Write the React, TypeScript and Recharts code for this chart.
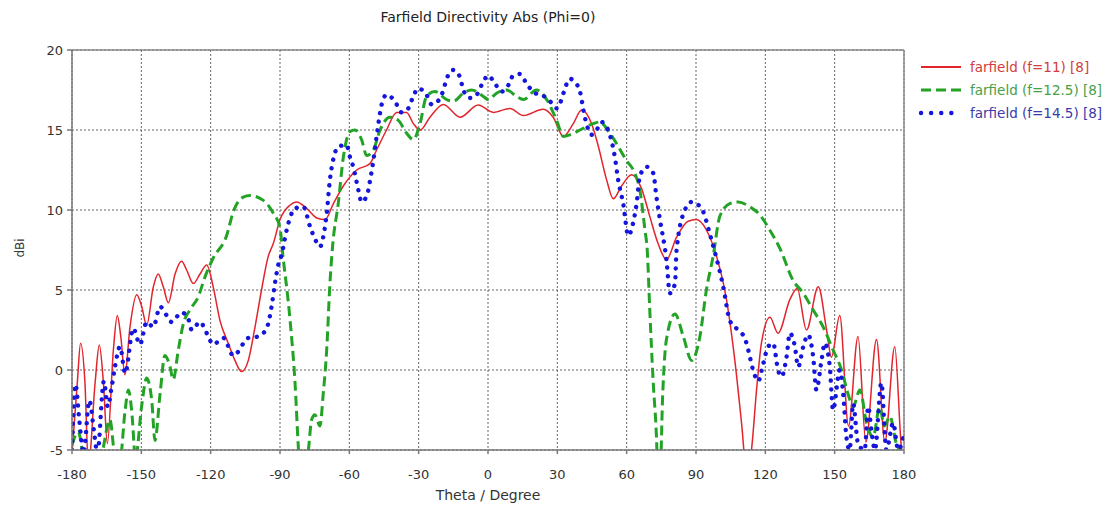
import React from 'react';
import {
  LineChart,
  Line,
  XAxis,
  YAxis,
  CartesianGrid,
  ReferenceLine,
  Legend,
} from 'recharts';

/* ------------------------- data ----------------------------------------- */
// f = 11 GHz (red, solid)
const redTheta = [
  -180, -177.7, -176.3, -174.4, -172.9, -170, -168.2, -166.4, -164.7, -162.1,
  -160.4, -158.9, -157.1, -154.9, -152, -149.9, -147.7, -144.8, -142.7, -140.5,
  -138.3, -135.4, -132.6, -130.4, -127.5, -124.6, -121.7, -118.9, -116, -112.4,
  -109.5, -106.6, -103.7, -100.8, -98, -95.1, -92.9, -90, -85.7, -82.8,
  -78.5, -74.1, -70.5, -66.9, -62.6, -56.8, -51.1, -48.2, -43.9, -39.5,
  -35.2, -32.3, -29.4, -25.1, -19.3, -12.1, -4.2, 2.3, 9.5, 15.3,
  23.9, 28.2, 32.6, 36.9, 40.5, 44.8, 47.7, 51.3, 54.2, 57.8,
  62.1, 66.4, 70, 73.6, 77.2, 81.6, 86.6, 90.2, 94.5, 98.9,
  103.2, 106.8, 109.7, 112, 114, 116.2, 118.3, 122, 125.5, 130.6,
  133.8, 137.8, 142.9, 146.5, 148.6, 152.2, 156, 160.1, 163.5, 168.1,
  171.7, 176, 179, 180,
];
const redDbi = [
  -5.2, -0.8, 1.67, -0.8, -6, -0.8, 1.56, -0.8, -4.6, 1.25,
  3.4, 2.1, -0.3, 2.7, 4.7, 4.0, 2.8, 5.2, 6.0, 5.2,
  4.2, 6.0, 6.8, 6.25, 5.4, 6.0, 6.56, 5.2, 3.1, 1.67,
  0.6, -0.1, 0.6, 2.7, 5, 7.1, 7.9, 9.4, 10.3, 10.5,
  10.1, 9.5, 9.4, 10.4, 11.5, 12.5, 12.9, 13.75, 15, 16.1,
  16.1, 15.4, 15.0, 15.8, 16.6, 15.8, 16.56, 16.1, 16.35, 15.9,
  16.3, 15.8, 14.6, 15.4, 16.25, 15.4, 14, 11.9, 10.7, 11.5,
  12.2, 11.35, 9.6, 7.9, 6.9, 8.3, 9.3, 9.4, 8.75, 7.1,
  4.4, 0.6, -3.3, -6.5, -5, -1.25, 1.67, 3.3, 2.3, 4.4,
  5.1, 2.5, 5.2, 2.5, 0.8, 3.4, -3.5, 2.1, -4.5, 1.9,
  -4.5, 1.46, -5, -5.5,
];

// f = 12.5 GHz (green, dashed)
const greenTheta = [
  -180, -177.3, -175, -171, -167, -163.6, -161.4, -159.5, -157, -155.6,
  -154.2, -152.5, -149.9, -147.7, -145.5, -144.1, -141.9, -139.8, -137.6, -136.2,
  -134, -131.8, -129, -125.3, -122.5, -118.9, -113.1, -110.2, -105.9, -103,
  -97.2, -92.9, -90, -89, -85.7, -83.5, -82, -80.5, -77.7, -76.3,
  -74.9, -72.7, -71.3, -69.8, -68.4, -67.2, -64.8, -62.6, -59.7, -57.6,
  -54.7, -52.5, -49.6, -46.7, -42.4, -38.8, -35.2, -32.3, -29.4, -26.6,
  -23, -17.9, -15, -10.7, -7.1, -2, 0.1, 3.7, 8.1, 12.4,
  15.3, 21, 25.4, 29.7, 32.6, 35.4, 39.8, 45.5, 48.4, 52.7,
  59.9, 63.5, 65.7, 67.9, 68.9, 70, 71.5, 72.9, 74, 75.6,
  77.2, 80.9, 84.5, 88.1, 91.7, 94.5, 97.4, 100.3, 104.6, 108.2,
  113.3, 117.6, 121.9, 126.3, 132, 136.4, 140.7, 145, 149.3, 153,
  155.8, 158, 160.9, 163.8, 166.6, 169.5, 171.5, 173.9, 176.7, 180,
];
const greenDbi = [
  -4.7, -3.85, -5.5, -7, -5.2, -3.1, -5.5, -6, -2.5, -1.25,
  -2.5, -5.5, -2.3, -0.5, -1.9, -4.4, -1.5, 0.9, 0.2, -0.6,
  1.25, 2.9, 3.75, 4.6, 5.8, 7.0, 8.4, 9.9, 10.8, 10.9,
  10.6, 9.8, 8.9, 7.5, 3.2, -0.8, -5, -8, -5, -3.1,
  -2.8, -3.5, -1.5, 1.25, 5.4, 7.8, 10.4, 13.3, 14.9, 15,
  14.4, 13.4, 13.75, 15, 15.8, 15.6, 14.8, 14.4, 15.4, 17.1,
  17.4, 16.9, 16.8, 17.3, 17.5, 17.1, 16.9, 17.3, 17.5, 17.1,
  16.9, 17.5, 16.9, 15.6, 14.6, 14.7, 15, 15.4, 15.5, 14.8,
  13.1, 12.3, 11.25, 8.75, 7.5, 3.75, -0.8, -4.2, -9, -1.5,
  1.9, 3.5, 2.1, 0.6, 2.1, 5, 7.1, 9.6, 10.4, 10.5,
  10.2, 9.7, 8.75, 7.6, 5.6, 4.8, 3.75, 2.7, 1.25, 0,
  -1.5, -2.3, -1.25, -3.3, -4.2, -2.3, -3.5, -2.9, -4.6, -5.2,
];

// f = 14.5 GHz (blue, dotted)
const blueTheta = [
  -180, -178.5, -176.8, -175, -172.5, -170.5, -169, -166.2, -164.5, -163,
  -161.4, -159.2, -157, -153.5, -150.6, -147.7, -144.8, -141.9, -139, -136.9,
  -132.6, -129.7, -128.2, -124.6, -121.7, -118.9, -114.5, -110.2, -103.7, -99.4,
  -95.8, -93.6, -92.2, -90.7, -89.3, -87.1, -85.7, -83.5, -79.9, -77,
  -74.9, -72.7, -71.3, -69.8, -68.4, -66.9, -64.8, -61.2, -59.7, -58.3,
  -56.1, -54.7, -52.2, -51.1, -49.6, -48.2, -47, -46, -43.9, -40.3,
  -37.4, -34.5, -32.6, -30.2, -26.6, -24.4, -21.1, -19.3, -17.9, -15,
  -12.1, -10.7, -7.8, -4.9, -2.8, 0.1, 3, 5.9, 8.8, 10.9,
  13.8, 16.7, 20.3, 23.2, 26.8, 29.7, 31.8, 33.3, 35.4, 37.6,
  39.8, 41.9, 44.8, 47, 49.1, 52.7, 54.9, 56.3, 58.5, 60.7,
  62.8, 64.3, 65.7, 68.6, 71.5, 72.9, 74.4, 77.2, 78.7, 80.9,
  81.6, 85.2, 88.1, 90.2, 93.1, 96, 98.1, 101.8, 104.6, 108.2,
  111.1, 112.6, 114.7, 116.9, 119.1, 121.2, 123.4, 125.5, 127, 129.2,
  130.6, 132.8, 134.2, 136.4, 138.5, 140.7, 142.1, 144.3, 145.7, 147.9,
  149.3, 152.2, 153.7, 155.1, 156.5, 158, 160.1, 163, 164.5, 165.9,
  167.4, 170.2, 172.4, 175.3, 177.5, 180,
];
const blueDbi = [
  -5, -0.9, -3.2, -5.2, -1.9, -3.8, -5.2, -0.7, -2.3, -1.2,
  0.2, 1.46, -0.2, 2.6, 1.6, 3.0, 2.7, 3.96, 3.4, 3.0,
  3.6, 3.2, 2.5, 3.0, 2.3, 1.6, 2.0, 0.9, 2.0, 2.1,
  2.6, 4.0, 5.4, 6.6, 7.2, 8.75, 9.5, 10.1, 10.2, 8.96,
  8.2, 7.7, 8.3, 9.8, 11.9, 13.2, 13.96, 14.06, 13.3, 12.7,
  11.25, 10.5, 11.0, 11.8, 13.1, 14.6, 15.8, 16.6, 17.2, 16.8,
  16.1, 16.35, 17.0, 17.6, 17.2, 16.6, 16.9, 17.5, 18.2, 18.75,
  18.3, 17.5, 17.0, 17.2, 17.8, 18.4, 17.9, 17.4, 17.8, 18.4,
  18.5, 17.9, 17.3, 17.2, 16.8, 16.35, 16.9, 17.6, 18.2, 18.0,
  17.4, 15.8, 14.7, 15.0, 15.5, 14.7, 13.3, 11.9, 10.4, 8.4,
  9.2, 10.4, 12.1, 12.7, 12.3, 10.8, 9.4, 6.9, 4.8, 5.4,
  7.5, 10, 10.5, 10.4, 9.9, 8.5, 7.4, 5.2, 3.1, 2.5,
  2.0, 1.25, 0, -0.7, 0.4, 1.46, 1.67, 0, -0.4, 0.83,
  2.3, 1.46, 0.2, 1.46, 2.2, 0.83, -1.25, 0.6, 1.67, 0.2,
  -2.5, 0, -1.5, -4.2, -5, -2.1, -4.6, -5, -2.3, -3.75,
  -5, -0.8, -5, -3.3, -5, -4,
];

const thetaTicks = [-180, -150, -120, -90, -60, -30, 0, 30, 60, 90, 120, 150, 180];
const dbiTicks = [-5, 0, 5, 10, 15, 20];

const toRows = (t: number[], v: number[]) => t.map((theta, i) => ({ theta, v: v[i] }));

/* ------------------------- styles --------------------------------------- */
const FONT = '"DejaVu Sans", Verdana, sans-serif';

const SERIES = [
  {
    name: 'farfield (f=11) [8]',
    rows: toRows(redTheta, redDbi),
    color: '#e2242c',
    text: '#d23c3c',
    width: 1.5,
    legendWidth: 1.8,
    dash: undefined as string | undefined,
    cap: 'butt' as const,
  },
  {
    name: 'farfield (f=12.5) [8]',
    rows: toRows(greenTheta, greenDbi),
    color: '#22a325',
    text: '#46a046',
    width: 3,
    legendWidth: 3,
    dash: '10 5',
    cap: 'butt' as const,
  },
  {
    name: 'farfield (f=14.5) [8]',
    rows: toRows(blueTheta, blueDbi),
    color: '#1515dc',
    text: '#3a3aa8',
    width: 4.4,
    legendWidth: 4.4,
    dash: '0.1 8.6',
    cap: 'round' as const,
  },
];

/* ------------------------- legend --------------------------------------- */
const legendContent = () => (
  <div style={{ fontFamily: FONT, fontSize: 13.5 }}>
    {SERIES.map((s) => (
      <div key={s.name} style={{ display: 'flex', alignItems: 'center', height: 23 }}>
        <svg width={48} height={10}>
          <line
            x1={5}
            x2={45}
            y1={5}
            y2={5}
            stroke={s.color}
            strokeWidth={s.legendWidth}
            strokeDasharray={s.dash === '0.1 8.6' ? '0.1 10' : s.dash}
            strokeLinecap={s.cap}
          />
        </svg>
        <span style={{ color: s.text, marginLeft: 6, whiteSpace: 'nowrap' }}>{s.name}</span>
      </div>
    ))}
  </div>
);

/* ------------------------- component ------------------------------------ */
export default function App() {
  return (
    <div
      style={{
        position: 'absolute',
        left: 0,
        top: 0,
        width: 1120,
        height: 506,
        background: '#fff',
        fontFamily: FONT,
      }}
    >
      <div
        style={{
          position: 'absolute',
          left: 288,
          width: 400,
          top: 9,
          textAlign: 'center',
          fontSize: 14,
          color: '#222',
        }}
      >
        Farfield Directivity Abs (Phi=0)
      </div>

      <LineChart
        width={1120}
        height={506}
        margin={{ top: 50, right: 216, bottom: 26, left: 32 }}
      >
        <CartesianGrid stroke="#666" strokeDasharray="2 2" />
        <XAxis
          dataKey="theta"
          type="number"
          domain={[-180, 180]}
          ticks={thetaTicks}
          allowDataOverflow
          interval={0}
          height={30}
          tickSize={4}
          tickMargin={16}
          stroke="#777"
          strokeWidth={1.5}
          tick={{ fontSize: 13, fill: '#333' }}
        />
        <YAxis
          type="number"
          domain={[-5, 20]}
          ticks={dbiTicks}
          allowDataOverflow
          interval={0}
          width={40}
          tickSize={5}
          tickMargin={4}
          stroke="#777"
          strokeWidth={1.5}
          tick={{ fontSize: 13, fill: '#333' }}
        />
        <ReferenceLine y={20} stroke="#888" strokeWidth={1.5} />
        <ReferenceLine x={180} stroke="#888" strokeWidth={1.5} />

        {SERIES.map((s) => (
          <Line
            key={s.name}
            name={s.name}
            data={s.rows}
            dataKey="v"
            type="monotone"
            stroke={s.color}
            strokeWidth={s.width}
            strokeDasharray={s.dash}
            strokeLinecap={s.cap}
            dot={false}
            activeDot={false}
            isAnimationActive={false}
          />
        ))}

        <Legend
          layout="vertical"
          align="center"
          verticalAlign="middle"
          content={legendContent}
          wrapperStyle={{ left: 916, top: 55, width: 204, height: 75 }}
        />
      </LineChart>

      <div
        style={{
          position: 'absolute',
          left: 6,
          top: 241,
          width: 28,
          textAlign: 'center',
          fontSize: 12,
          color: '#333',
          transform: 'rotate(-90deg)',
        }}
      >
        dBi
      </div>
      <div
        style={{
          position: 'absolute',
          left: 338,
          width: 300,
          top: 487,
          textAlign: 'center',
          fontSize: 14,
          color: '#333',
        }}
      >
        Theta / Degree
      </div>
    </div>
  );
}
